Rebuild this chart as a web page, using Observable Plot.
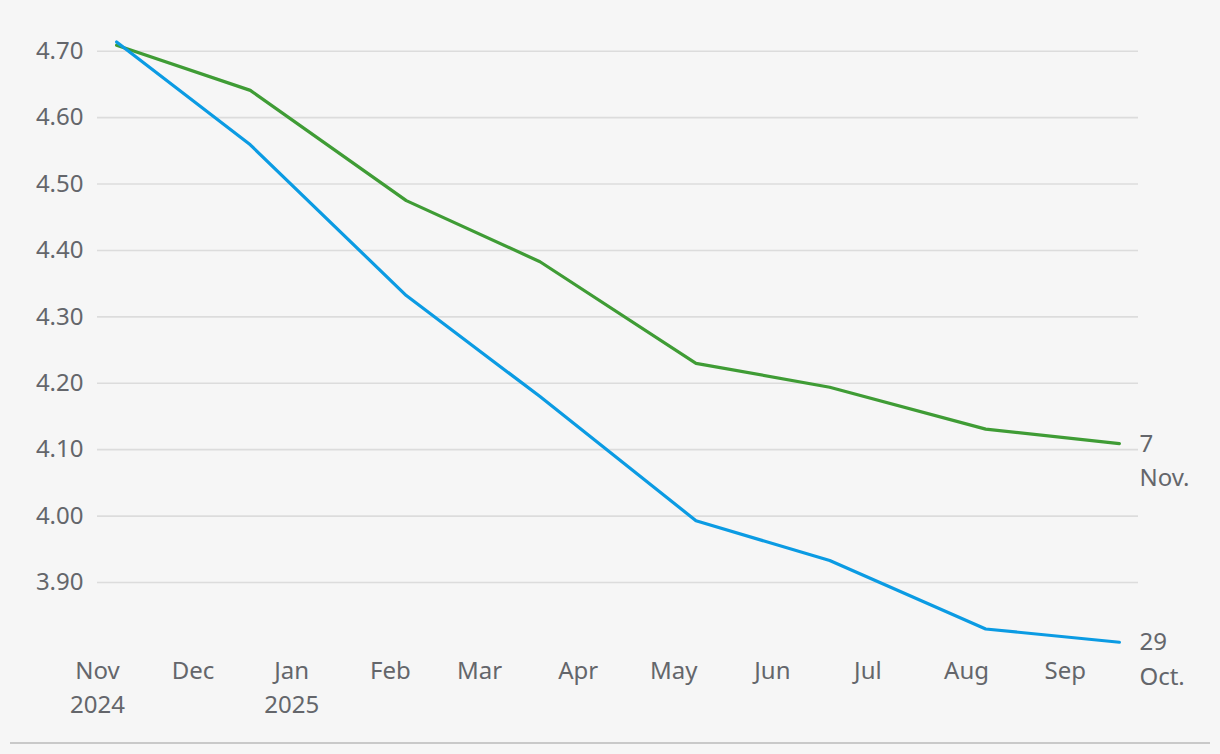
<!DOCTYPE html>
<html><head><meta charset="utf-8">
<script src="https://cdn.jsdelivr.net/npm/d3@7"></script>
<script src="https://cdn.jsdelivr.net/npm/@observablehq/plot@0.6"></script>
<style>
html,body{margin:0;padding:0;background:#f6f6f6;}
#chart{width:1220px;height:742px;}
.rule{margin:0 10px;border-top:2px solid #c9c9c9;}
</style></head><body>
<div id="chart"></div><div class="rule"></div>
<script>
// Meeting dates (x) and expected rate for each curve
const dates = ["2024-11-07","2024-12-19","2025-02-06","2025-03-20","2025-05-08","2025-06-19","2025-08-07","2025-09-18"];
const nov7 = [4.709, 4.641, 4.475, 4.383, 4.230, 4.194, 4.131, 4.109];
const oct29 = [4.714, 4.559, 4.332, 4.180, 3.993, 3.933, 3.830, 3.810];
const seriesNames = ["7\nNov.", "29\nOct."];
const seriesColors = ["#3f9c35", "#0b9be3"];
const yTicks = [3.90, 4.00, 4.10, 4.20, 4.30, 4.40, 4.50, 4.60, 4.70];
const monthTicks = ["2024-11-01","2024-12-01","2025-01-01","2025-02-01","2025-03-01","2025-04-01","2025-05-01","2025-06-01","2025-07-01","2025-08-01","2025-09-01"];
const monthLabels = ["Nov\n2024","Dec","Jan\n2025","Feb","Mar","Apr","May","Jun","Jul","Aug","Sep"];

const rows = [];
dates.forEach((d, i) => {
  rows.push({date: new Date(d), value: nov7[i], series: seriesNames[0]});
  rows.push({date: new Date(d), value: oct29[i], series: seriesNames[1]});
});
const tickDates = monthTicks.map(d => new Date(d));
const labelFor = d => monthLabels[tickDates.findIndex(t => +t === +d)] ?? "";

const chart = Plot.plot({
  width: 1220,
  height: 742,
  marginLeft: 97,
  marginRight: 82,
  marginTop: 17.5,
  marginBottom: 93.6,
  style: {background: "transparent", fontFamily: "'Noto Sans', sans-serif", fontSize: "24px", color: "#64666b"},
  x: {type: "utc", domain: [new Date("2024-11-01"), new Date("2025-09-24")]},
  y: {domain: [3.80, 4.75]},
  color: {domain: seriesNames, range: seriesColors},
  marks: [
    Plot.ruleY(yTicks, {stroke: "#dcdcdc", strokeWidth: 1.6}),
    Plot.axisY({ticks: yTicks, tickFormat: d => d.toFixed(2), tickSize: 0, tickPadding: 14, fontSize: 24, label: null}),
    Plot.axisX({ticks: tickDates, tickFormat: labelFor, tickSize: 0, tickPadding: 6, fontSize: 24, lineHeight: 1.42, label: null}),
    Plot.line(rows, {x: "date", y: "value", z: "series", stroke: "series", strokeWidth: 3.2, strokeLinejoin: "miter"}),
    Plot.text(rows, Plot.selectLast({x: "date", y: "value", z: "series", text: "series", textAnchor: "start", dx: 20, dy: -16, lineAnchor: "top", lineHeight: 1.42, fontSize: 24, fill: "#64666b"}))
  ]
});
document.getElementById("chart").appendChild(chart);
</script></body></html>
